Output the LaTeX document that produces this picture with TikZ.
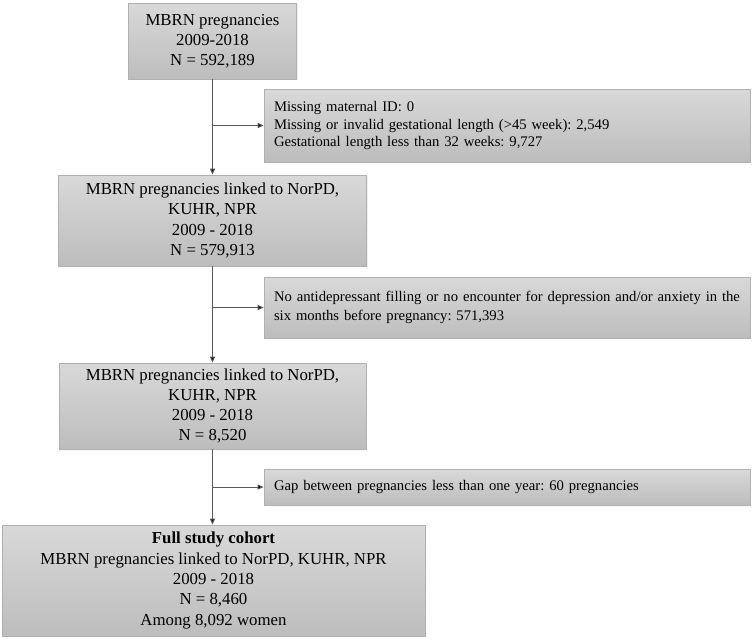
\documentclass[tikz,border=0pt]{standalone}
\usepackage{fontspec}
\setmainfont{Liberation Serif}
\usetikzlibrary{arrows.meta,shadows}
\begin{document}
\frenchspacing
\begin{tikzpicture}[x=0.75pt,y=-0.75pt,
  boxbase/.style={draw=gray!62, line width=0.6pt, top color=gray!30, bottom color=gray!52,
    drop shadow={opacity=0.12, shadow xshift=1pt, shadow yshift=-1pt}},
  mainbox/.style={boxbase, align=center, inner sep=0pt,
    font=\fontsize{12.6pt}{15.2pt}\selectfont},
  sidebox/.style={boxbase, align=left, inner xsep=7.5pt, inner ysep=0pt, text width=349.5pt,
    font=\fontsize{11pt}{13.2pt}\selectfont},
  flow/.style={draw=black!65, line width=0.7pt, -{Triangle[length=4.5pt,width=3.8pt,fill=black]}}
]
\useasboundingbox (0,0) rectangle (753,639);
\node[mainbox, minimum width=126pt, minimum height=57pt] (b1) at (212.5,41)
  {MBRN pregnancies\\2009-2018\\N = 592,189};
\node[mainbox, minimum width=231pt, minimum height=68.25pt] (b2) at (212.5,220.5)
  {MBRN pregnancies linked to NorPD,\\KUHR, NPR\\2009 - 2018\\N = 579,913};
\node[mainbox, minimum width=230.25pt, minimum height=64.5pt] (b3) at (212.5,406)
  {MBRN pregnancies linked to NorPD,\\KUHR, NPR\\2009 - 2018\\N = 8,520};
\node[mainbox, minimum width=317.25pt, minimum height=83.25pt] (b4) at (213.5,580.5)
  {\textbf{Full study cohort}\\MBRN pregnancies linked to NorPD, KUHR, NPR\\2009 - 2018\\N = 8,460\\Among 8,092 women};
\node[sidebox, minimum height=54.75pt] (s1) at (507,125.5)
  {Missing maternal ID: 0\\Missing or invalid gestational length (>45 week): 2,549\\Gestational length less than 32 weeks: 9,727};
\node[sidebox, minimum height=45.75pt, font=\fontsize{11pt}{14.2pt}\selectfont] (s2) at (507,307.5)
  {\makebox[346pt][s]{No antidepressant filling or no encounter for depression and/or anxiety in the}\\six months before pregnancy: 571,393};
\node[sidebox, minimum height=27pt] (s3) at (507,487)
  {Gap between pregnancies less than one year: 60 pregnancies};
\draw[flow] (b1.south) -- (b2.north);
\draw[flow] (b2.south) -- (b3.north);
\draw[flow] (b3.south) -- (b3.south |- b4.north);
\draw[flow] (b1.south |- s1.west) -- (s1.west);
\draw[flow] (b2.south |- s2.west) -- (s2.west);
\draw[flow] (b3.south |- s3.west) -- (s3.west);
\end{tikzpicture}
\end{document}
